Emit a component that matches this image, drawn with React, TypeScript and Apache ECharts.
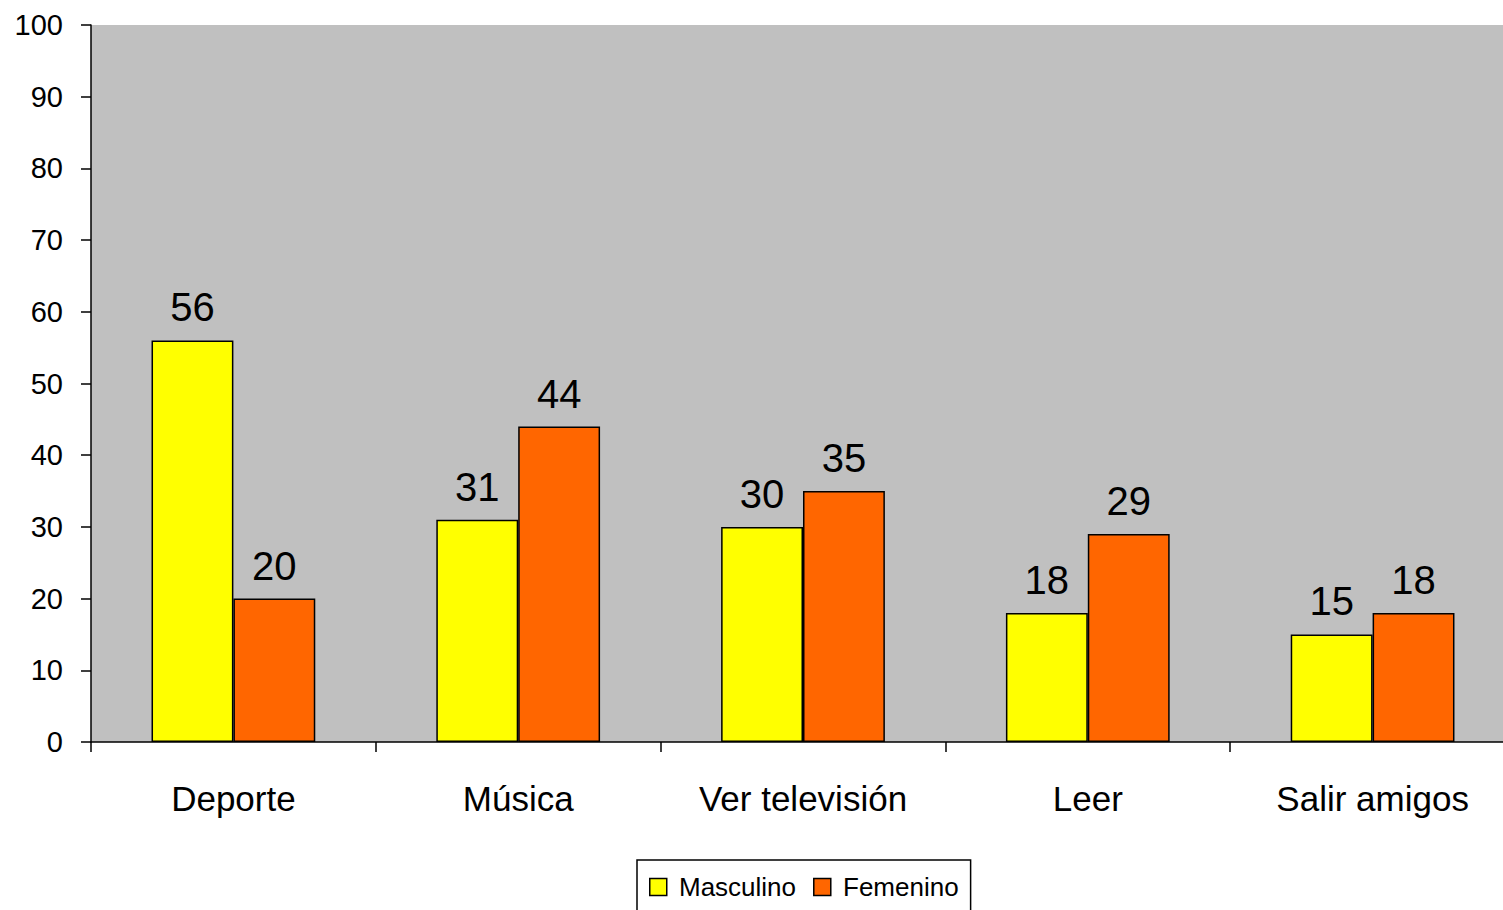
import React, { useEffect, useRef } from "react";
import * as echarts from "echarts";

const categories = ["Deporte", "Música", "Ver televisión", "Leer", "Salir amigos"];
const masculino = [56, 31, 30, 18, 15];
const femenino = [20, 44, 35, 29, 18];
const seriesNames = ["Masculino", "Femenino"];

const FONT = "'Liberation Sans', Arial, sans-serif";

export default function App() {
  const ref = useRef<HTMLDivElement>(null);
  useEffect(() => {
    const chart = echarts.init(ref.current!, null, { renderer: "svg" });
    const label = {
      show: true,
      position: "top" as const,
      distance: 13,
      fontFamily: FONT,
      fontSize: 40,
      color: "#000",
    };
    chart.setOption({
      animation: false,
      backgroundColor: "#fff",
      grid: { left: 91, right: 0, top: 25, bottom: 168, containLabel: false, show: true, backgroundColor: "#c0c0c0", borderWidth: 0 },
      legend: {
        top: 860,
        left: 637,
        itemWidth: 17,
        itemHeight: 17,
        itemGap: 17,
        borderColor: "#000",
        borderWidth: 1.5,
        padding: [14, 12, 11, 12],
        formatter: (n: string) => " " + n,
        textStyle: { fontFamily: FONT, fontSize: 26, color: "#000" },
        data: seriesNames.map((n) => ({ name: n, icon: "rect", itemStyle: { borderColor: "#000", borderWidth: 1.5 } })),
      },
      xAxis: {
        type: "category",
        data: categories,
        axisLine: { lineStyle: { color: "#000", width: 1.5 } },
        axisTick: { show: true, length: 10, lineStyle: { color: "#000", width: 1.5 } },
        axisLabel: { fontFamily: FONT, fontSize: 35, color: "#000", margin: 39, interval: 0 },
      },
      yAxis: {
        type: "value",
        min: 0,
        max: 100,
        interval: 10,
        splitLine: { show: false },
        axisLine: { show: true, lineStyle: { color: "#000", width: 1.5 } },
        axisTick: { show: true, length: 10, lineStyle: { color: "#000", width: 1.5 } },
        axisLabel: { fontFamily: FONT, fontSize: 29, color: "#000", margin: 28 },
      },
      series: [
        {
          name: seriesNames[0],
          type: "bar",
          data: masculino,
          barGap: "0%",
          barCategoryGap: "42.5%",
          itemStyle: { color: "#ffff00", borderColor: "#000", borderWidth: 1.5 },
          label,
        },
        {
          name: seriesNames[1],
          type: "bar",
          data: femenino,
          itemStyle: { color: "#ff6600", borderColor: "#000", borderWidth: 1.5 },
          label,
        },
      ],
    });
    return () => chart.dispose();
  }, []);
  return <div ref={ref} style={{ position: "fixed", left: 0, top: 0, width: 1515, height: 910 }} />;
}
